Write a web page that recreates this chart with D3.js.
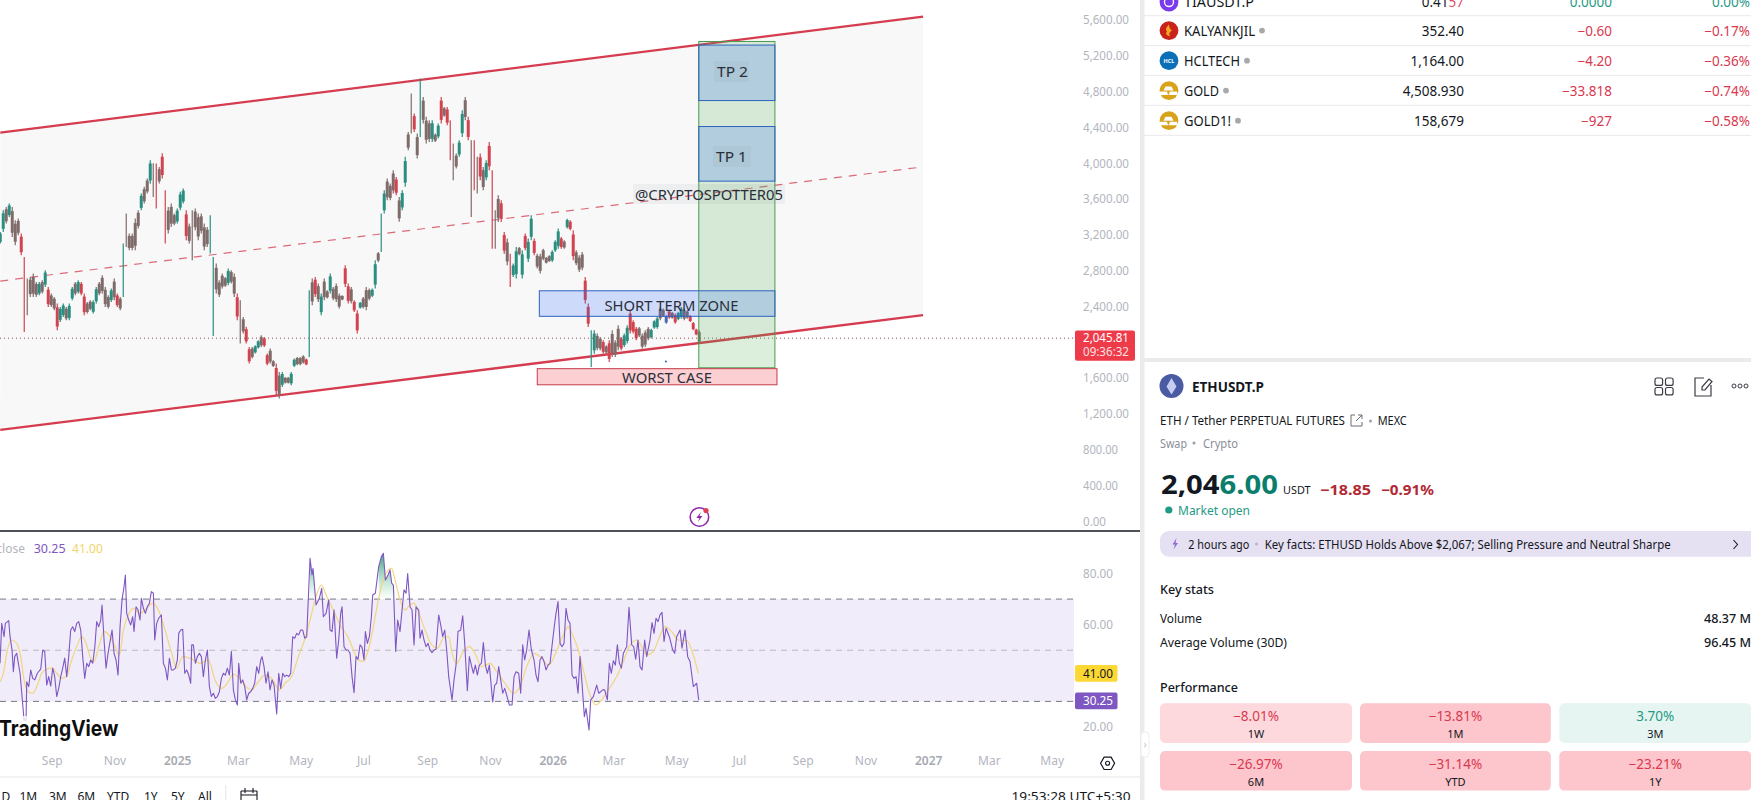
<!DOCTYPE html>
<html><head><meta charset="utf-8">
<script src="https://cdn.jsdelivr.net/npm/d3@7"></script>
<style>html,body{margin:0;padding:0;background:#fff;overflow:hidden}svg{display:block}text{font-family:"Noto Sans",sans-serif}</style>
</head><body><svg id="c" width="1751" height="800"></svg>
<script>
// ---------- data ----------
const priceTicks=[0,400,800,1200,1600,2400,2800,3200,3600,4000,4400,4800,5200,5600];
const rsiTicks=[20,60,80];
const timeTicks=["2024-09-01","2024-11-01","2025-01-01","2025-03-01","2025-05-01","2025-07-01","2025-09-01","2025-11-01","2026-01-01","2026-03-01","2026-05-01","2026-07-01","2026-09-01","2026-11-01","2027-01-01","2027-03-01","2027-05-01"];
const timeLabels=["Sep","Nov","2025","Mar","May","Jul","Sep","Nov","2026","Mar","May","Jul","Sep","Nov","2027","Mar","May"];
const rangeLabels=["D","1M","3M","6M","YTD","1Y","5Y","All"];

const candleStart="2024-07-13", candleStepDays=2.916;
const candleHigh=[3233,3475,3512,3549,3512,3363,3382,3214,2953,2712,
2730,2767,2674,2674,2693,2805,2618,2544,2507,2432,
2395,2432,2395,2432,2618,2674,2693,2674,2544,2451,
2469,2469,2618,2674,2749,2618,2525,2600,2711,2544,
2507,3102,3438,3214,3214,3382,3475,3661,3736,3829,
4034,4000,3996,3959,4112,3698,3512,3549,3438,3494,
3680,3717,3475,3326,3475,3494,3438,3438,3326,3289,
3419,2953,2879,2693,2767,2730,2823,2805,2767,2544,
2470,2283,2172,1948,1948,1967,2023,2078,2060,1874,
1929,1799,1762,1669,1669,1613,1613,1669,1818,1836,
1836,1855,1818,2581,2711,2730,2656,2544,2711,2581,
2767,2618,2656,2544,2525,2860,2656,2618,2470,2358,
2451,2507,2618,2600,2600,2916,3009,3438,3698,3829,
3773,3922,3847,3624,3698,4071,4350,4778,4555,4331,
4946,4741,4518,4480,4480,4331,4443,4741,4629,4629,
4480,4220,4108,4257,4592,4741,4518,4257,4257,4071,
4108,3959,4034,4238,
3922,3475,3642,3586,3232,3158,2990,2879,3065,3065,
3028,3214,3158,3419,3158,2990,2990,3046,2953,2972,
3028,3139,3270,3177,3139,3381,3363,3251,3028,2972,
3009,2730,2432,2134,2134,2097,2060,2022,1966,2022,
2134,2022,2190,2060,2097,2190,2357,2246,2171,2171,
2097,2134,2171,2152,2246,2283,2394,2376,2301,2357,
2339,2320,2339,2394,2376,2357,2301,2227,2152,2134];
const candleLow=[3102,3233,3326,3400,3177,3084,3196,2972,2116,2302,
2507,2507,2507,2525,2544,2618,2395,2395,2358,2134,
2227,2283,2246,2246,2469,2525,2544,2525,2302,2320,
2358,2320,2432,2525,2544,2395,2376,2451,2469,2395,
2358,2507,3065,3028,3028,3028,3270,3475,3549,3661,
3770,3624,3494,3773,3829,3102,3214,3289,3307,3326,
3475,3549,3140,3102,2916,3251,3140,3214,3028,3065,
2991,2071,2544,2507,2600,2618,2637,2656,2507,2246,
1985,2097,1985,1762,1818,1874,1929,1948,1948,1743,
1762,1725,1408,1371,1501,1538,1538,1520,1725,1743,
1743,1762,1743,1836,2414,2507,2451,2302,2470,2488,
2544,2470,2451,2376,2470,2618,2432,2432,2339,2097,
2376,2376,2358,2470,2507,2600,2898,3009,3438,3587,
3587,3661,3642,3345,3475,3736,4145,4331,4350,4052,
4294,4443,4220,4238,4238,4238,4276,4443,4518,4425,
4034,3810,3940,4071,4294,4480,4257,3400,3698,3661,
3810,3698,3810,3922,
3046,3046,3344,3344,2990,2860,2618,2730,2711,2972,
2711,3028,2897,3139,2972,2823,2767,2916,2879,2897,
2897,3009,3046,3046,3046,3270,3251,2916,2860,2786,
2804,2432,2171,1724,1873,1910,1910,1873,1873,1780,
1836,1836,1910,1910,1948,1985,2097,2097,2022,2059,
1929,1948,2022,2041,2152,2152,2246,2283,2208,2264,
2264,2208,2246,2264,2246,2264,2227,2134,2078,1985];
const candleTone=("g g m g m m m r r m  m m m g m g r m m r  g g m g g m g r r m  m g g m m m m g m r  m g m m m m m g m m  g m r m r r m m m g  g g r m m m m m m m  g g m m m m g m m r "+
"m m r r m g g m r r  m m r m g m m g g m  m m r g m r m g m m  g m m m m r r m r r  g m m m g g m g g m  m m r m g g m m r m  g m m m g m g r m r  r m m g g m r m r m  r m g r "+
"r m m r r m r g g m  g r g g r m m m m m  g g g r m g r r m m  m r r g g m m r m r  m m m r g g r r r m  m m m g g g m m b r  m r g g m m r r r m").trim().split(/\s+/);

const channelDates=["2024-07-13","2026-12-27"];
const channelTop=[4341,5637];
const channelMid=[2684,3959];
const channelBottom=[1022,2302];

const lastPrice=2045.81;
const zoneStart="2026-05-23", zoneEnd="2026-08-05", shortStart="2025-12-19", worstStart="2025-12-17", worstEnd="2026-08-07";
const entryRange=[1715,5360], tp2Range=[4700,5320], tp1Range=[3800,4410], shortRange=[2290,2575], worstRange=[1525,1705];

// RSI vertices: bar index (bars of 0.324 day from candleStart)
const rsiBarDays=0.324;
const rsiBars=[0,5,12,16,26,30,36,40,44,50,55,60,66,72,78,80,86,92,98,104,112,122,128,134,140,146,152,158,164,170,176,182,188,194,200,206,212,218,224,230,236,242,248,254,260,266,272,278,284,290,296,302,306,312,318,324,330,336,342,348,354,360,366,372,376,380,386,392,398,402,408,414,420,424,430,436,442,448,454,460,464,470,476,484,490,496,502,508,514,520,526,532,536,542,548,554,560,566,572,575,580,586,592,598,604,610,616,622,628,634,640,646,652,658,664,670,676,682,688,694,700,706,712,716,722,728,734,740,746,752,758,764,770,776,782,786,792,798,804,810,816,822,830,836,842,848,854,860,866,872,878,884,890,896,902,908,914,920,930,936,939,948,958,965,970,978,986,990,996,1002,1010,1016,1022,1026,1032,1038,1044,1050,
1056,1062,1068,1074,1080,1086,1092,1096,1102,1108,1114,1118,1126,1136,1144,1150,1156,1164,1170,1175,1180,1187,1193,1200,1206,1212,1218,1223,1230,1236,1242,1248,1256,1260,1266,1272,1278,1284,1290,1296,1302,1308,1316,1322,1328,1334,1340,1346,1356,1362,1368,1374,1382,1388,1394,1402,1408,1414,1420,1426,1432,1438,1444,1450,1456,1462,1468,1478,1484,1490,1496,1502,1508,1514,1520,1528,1536,1542,1548,1556,1562,1568,1574,1580,1587,1594,1602,1608,1614,1620,1626,1632,1638,1644,1650,1658,1664,1668,1674,1680,1686,1692,1698,1704,1710,1716,1722,1728,1734,1740,1746,1753,1758,1767,1772,1780,1790,1796,1802,1808,1814,1822,1828,1834,1840,1846,1852,1858,1864,1870,1880,1887,1895,1901,1907,1914,1920,1926,1934,1940,1950,1956,1962,1968,1974,1980,1986,1992,1998,2008,2018,2024,2030,2040,2046,2055,2063,2070,2080,2090,2096];
const rsiValues=[44.9,60.5,55.3,60.5,61.6,55.3,50.1,41.6,47.5,48.8,44.9,41,31.9,22.7,22.7,37.7,35.8,42.3,39,38.4,41,42.6,50.1,49.5,36.4,39.7,36,43,39.7,31.9,35.1,39.7,43,46.9,39.7,47.5,57.9,59.2,57.3,60.5,61.2,57.9,47.5,39,44.9,43.6,46.2,44.9,50.8,61.2,59.2,61.8,67.7,54,43,48.8,53.4,57.9,48.8,46.2,40.3,59.2,69.7,74.9,79.4,64.4,61.8,59.9,63.1,57.3,67,65.7,61.8,70.3,66.4,64.4,67,68.4,72.9,72.3,54,60.5,62.5,63.8,44.9,43,38.4,46.9,42.3,42.3,43,46.2,56.6,57.9,58.2,41,42.3,40.3,37.1,52.1,52.1,44.9,47.5,48.8,47.5,39.7,46.2,50.1,35.8,31.9,33.2,31.2,31.9,33.8,39,41,40.3,43,40.3,49.5,34.5,30.6,28.6,44.9,37.1,38.4,35.8,30.6,33.2,33.8,35.1,37.1,43.6,41,46.2,47.5,43.6,37.1,41.6,34.5,38.4,36.4,25.1,41,35.1,41,39.7,40.3,39.7,41,55.3,54.7,56.6,56,57.9,57.9,54.7,55.3,85.9,79.4,82,67.7,70.3,74.2,63.1,64.4,69.7,57.9,57.3,65.7,46.9,54,64.4,67,51.4,50.1,50.1,48.8,
39.7,33.4,47.5,46.5,52.1,51.2,46.2,57.3,52.7,55.3,63.1,71.6,72.3,82.7,86.6,87.9,77.5,79.4,81.4,76.2,75.5,49.5,61.8,57.3,65.7,73.6,72.3,80,67,65.7,52.1,67,65.7,54.7,57.9,54,51.4,52.7,50.1,49.1,50.1,50.4,63.8,59.9,55.3,57.9,50.1,39.7,30.6,38.4,44.2,57.3,57.9,63.5,52.7,34.2,47.5,44.2,41,44.2,40.3,44.2,44.9,53,44.2,41,44.2,29.8,36.4,37.1,43.6,38.4,33.2,35.1,32.5,28.6,28.6,39.7,41.6,41,33.2,52.1,46.2,50.1,57.9,50.1,46.2,40.3,37.7,46.2,47.5,45.6,42.3,44.2,44.9,54,60.5,64.4,69,52.7,51.4,52.7,66.4,61.8,60.5,40.3,39,39.7,33.2,47.5,37.1,24,27.3,18.8,30.6,31.9,36.4,33.2,33.8,34.5,34.5,30.6,44.9,41,45.9,44.2,52.1,44.9,43,48.8,51.4,66.8,52.1,51.4,46.5,54,43.6,42.3,54,47.5,54,60.8,56.6,62.5,61.2,63.8,64.8,53.4,58.6,55.3,50.1,48.8,55.3,57.9,50.8,57.9,47.5,45.6,35.8,37.1,30.6,30.25];
const maBars=[0,10,22,36,50,62,72,84,98,112,125,140,155,170,185,200,215,232,245,258,270,282,296,312,330,345,358,370,385,400,420,440,458,475,495,515,530,548,570,600,625,645,665,685,700,718,738,755,775,795,815,838,855,875,895,915,930,948,964,980,1000,1020,1040,1050,
1064,1074,1090,1105,1120,1135,1150,1165,1175,1185,1200,1215,1230,1242,1255,1275,1295,1312,1330,1346,1356,1370,1390,1408,1425,1445,1470,1490,1515,1540,1560,1580,1602,1625,1645,1665,1685,1705,1720,1735,1750,1765,1788,1805,1825,1850,1870,1890,1910,1925,1940,1960,1975,1995,2015,2035,2060,2075,2095];
const maValues=[37.7,41,50.1,54,52.7,47.5,38.4,33.8,33.2,36.4,41,42.6,43,41,39,39.9,46.2,52.1,55.3,52.7,47.5,45.6,51.4,57.3,55.3,51.4,48.2,57.9,63.8,66.4,64.4,66.4,68.4,65.7,57.9,48.8,43,47.5,46.9,44.9,46.2,38.4,35.1,37.7,40.7,39,35.8,34.5,37.7,40.3,39,34.5,37.1,39.7,47.5,54.7,61.8,71,75.5,71,65.7,59.9,56,53.4,
48.8,46.2,45.6,50.1,59.2,69.7,77.5,81.4,82,77.5,69.7,65.7,67.7,68.4,65.1,57.9,52.1,50.8,54.7,55.3,48.8,44.9,49.5,51.4,48.8,43.6,44.9,41.6,37.1,33.2,35.8,43.6,48.8,46.9,44.2,48.2,54.7,59.2,55.3,50.1,42.3,34.5,28.6,30.6,34.5,39.7,45.6,52.1,54,51.4,48.2,49.5,54,59.2,57.3,54,53.8,50.1,41];
const overboughtSpans=[[925,960],[1130,1190]];
const rsiLast=30.25, maLast=41.00;

const watchNames=["TIAUSDT.P","KALYANKJIL","HCLTECH","GOLD","GOLD1!"];
const watchPrices=["0.41","352.40","1,164.00","4,508.930","158,679"];
const watchChanges=["0.0000","\u22120.60","\u22124.20","\u221233.818","\u2212927"];
const watchPercents=["0.00%","\u22120.17%","\u22120.36%","\u22120.74%","\u22120.58%"];
const perfValues=["\u22128.01%","\u221213.81%","3.70%","\u221226.97%","\u221231.14%","\u221223.21%"];
const perfLabels=["1W","1M","3M","6M","YTD","1Y"];

// ---------- scales ----------
const svg=d3.select("#c");
const day=86400000, D=s=>new Date(s+"T00:00:00Z");
const x=d3.scaleUtc().domain([D("2025-01-01"),D("2027-01-01")]).range([177.2,928.2]);
const yP=d3.scaleLinear().domain([0,5600]).range([521.3,20]);
const yR=d3.scaleLinear().domain([20,80]).range([727,573.5]);
const candleDate=i=>new Date(+D(candleStart)+i*candleStepDays*day);
const rsiDate=b=>new Date(+D(candleStart)+(b*rsiBarDays-0.2)*day);

const INK="#131722", GREY="#b2b5be", RED="#d9394f", TEAL="#1f9a85";
function T(g,s,px,py,o={}){
  const t=g.append("text").text(s).attr("x",px).attr("y",py).attr("dominant-baseline","central")
   .attr("font-size",o.size||13).attr("fill",o.fill||INK).attr("text-anchor",o.anchor||"start");
  if(o.weight)t.attr("font-weight",o.weight);
  if(o.family)t.style("font-family",o.family);
  if(o.w)t.attr("textLength",o.w).attr("lengthAdjust","spacingAndGlyphs");
  return t;
}

// ---------- channel ----------
const defs=svg.append("defs");
defs.append("clipPath").attr("id","chartClip").append("rect").attr("x",0).attr("y",0).attr("width",1075).attr("height",530);
const grad=defs.append("linearGradient").attr("id","ob").attr("gradientUnits","userSpaceOnUse").attr("x1",0).attr("x2",0).attr("y1",yR(88)).attr("y2",yR(70));
grad.append("stop").attr("offset",0).attr("stop-color","#1f8f6f").attr("stop-opacity",.85);
grad.append("stop").attr("offset",1).attr("stop-color","#6fcf97").attr("stop-opacity",.03);

const main=svg.append("g").attr("clip-path","url(#chartClip)");
const chIdx=[0,1];
main.append("path").attr("fill","#f8f8f8")
 .attr("d",d3.area().x(i=>x(D(channelDates[i]))).y0(i=>yP(channelBottom[i])).y1(i=>yP(channelTop[i]))(chIdx));
const chLine=arr=>d3.line().x(i=>x(D(channelDates[i]))).y(i=>yP(arr[i]))(chIdx);
[channelTop,channelBottom].forEach(a=>main.append("path").attr("d",chLine(a)).attr("fill","none").attr("stroke","#d63c4f").attr("stroke-width",2.3));
main.append("path").attr("d",chLine(channelMid)).attr("fill","none").attr("stroke","#dc6a78").attr("stroke-width",1.2).attr("stroke-dasharray","8 7");
main.append("line").attr("x1",0).attr("x2",1075).attr("y1",yP(lastPrice)).attr("y2",yP(lastPrice)).attr("stroke","#8e4a55").attr("stroke-width",1).attr("stroke-dasharray","1 3");

// ---------- candles ----------
const toneColor={g:"#2a8f80",r:"#d2434f",m:"#7f6c6a",b:"#4a69b0"};
const idx=d3.range(candleHigh.length);
main.append("g").selectAll("line").data(idx).join("line")
 .attr("x1",i=>x(candleDate(i))).attr("x2",i=>x(candleDate(i)))
 .attr("y1",i=>yP(candleHigh[i])).attr("y2",i=>yP(candleLow[i]))
 .attr("stroke",i=>toneColor[candleTone[i]]||toneColor.m).attr("stroke-width",1.2);
main.append("g").selectAll("rect").data(idx.filter(i=>candleHigh[i]-candleLow[i]<370)).join("rect")
 .attr("x",i=>x(candleDate(i))-1.5).attr("width",3)
 .attr("y",i=>yP(candleHigh[i]-(candleHigh[i]-candleLow[i])*.14))
 .attr("height",i=>Math.max(1,yP(candleLow[i]+(candleHigh[i]-candleLow[i])*.14)-yP(candleHigh[i]-(candleHigh[i]-candleLow[i])*.14)))
 .attr("fill",i=>toneColor[candleTone[i]]||toneColor.m);
main.append("circle").attr("cx",x(D("2026-04-21"))).attr("cy",yP(1785)).attr("r",1).attr("fill","#2a5fb0");

// ---------- drawn zones ----------
function box(x0,x1,range,fill,stroke){
  main.append("rect").attr("x",x(D(x0))).attr("width",x(D(x1))-x(D(x0)))
   .attr("y",yP(range[1])).attr("height",yP(range[0])-yP(range[1]))
   .attr("fill",fill).attr("stroke",stroke).attr("stroke-width",1);
}
box(zoneStart,zoneEnd,entryRange,"rgba(76,175,80,.2)","#4c9a52");
box(zoneStart,zoneEnd,tp2Range,"rgba(41,98,255,.2)","#2d62c0");
box(zoneStart,zoneEnd,tp1Range,"rgba(41,98,255,.2)","#2d62c0");
box(shortStart,zoneEnd,shortRange,"rgba(41,98,255,.2)","#2d62c0");
box(worstStart,worstEnd,worstRange,"rgba(242,54,69,.24)","#c43c4c");
const lab="#2a2e39";
main.append("rect").attr("x",714).attr("y",61).attr("width",35).attr("height",21).attr("fill","rgba(120,123,134,.08)");
main.append("rect").attr("x",713).attr("y",146).attr("width",38).attr("height",21).attr("fill","rgba(120,123,134,.08)");
main.append("rect").attr("x",633).attr("y",184).attr("width",152).attr("height",20).attr("fill","rgba(120,123,134,.08)");
T(main,"TP 2",717,71.5,{size:14,fill:lab,w:31});
T(main,"TP 1",716,156,{size:14,fill:lab,w:31});
T(main,"@CRYPTOSPOTTER05",635,194,{size:14,fill:lab,w:148});
T(main,"SHORT TERM ZONE",604.5,305,{size:14,fill:lab,w:134});
T(main,"WORST CASE",622,377.6,{size:14,fill:lab,w:90});

// lightning mark
const bolt=svg.append("g").attr("transform","translate(699.4,517)");
bolt.append("circle").attr("r",9.3).attr("fill","#fff").attr("stroke","#8e24aa").attr("stroke-width",1.5);
bolt.append("path").attr("d","M1.5,-5 L-3,1 L0,1 L-1.5,5 L3,-1 L0,-1 Z").attr("fill","#8e24aa");
bolt.append("circle").attr("cx",6.6).attr("cy",-6.4).attr("r",2.6).attr("fill","#e0404f");

// ---------- price axis ----------
const axP=svg.append("g").attr("transform","translate(1083,0)")
 .call(d3.axisRight(yP).tickValues(priceTicks).tickFormat(d3.format(",.2f")).tickSize(0).tickPadding(0));
axP.select(".domain").remove();
axP.selectAll("text").attr("fill",GREY).attr("font-size",12).style("font-family",'"Noto Sans",sans-serif').attr("textLength",function(d){return d>=1000?46:(d>0?35:23)}).attr("lengthAdjust","spacingAndGlyphs");
svg.append("rect").attr("x",1075).attr("y",330.6).attr("width",60).attr("height",30.2).attr("rx",2).attr("fill","#ee3b4a");
T(svg,d3.format(",.2f")(lastPrice),1083,337.8,{size:12,fill:"#fff",w:46});
T(svg,"09:36:32",1083,351.5,{size:12,fill:"#fde0e3",w:46});

// pane separator
svg.append("line").attr("x1",0).attr("x2",1140).attr("y1",531).attr("y2",531).attr("stroke","#131722").attr("stroke-width",1.3);

// ---------- RSI pane ----------
const rp=svg.append("g");
const bandX1=1074;
rp.append("rect").attr("x",0).attr("width",bandX1).attr("y",yR(70)).attr("height",yR(30)-yR(70)).attr("fill","#f0ecf9");
[[70,"#787b86"],[50,"#b8b8c2"],[30,"#787b86"]].forEach(([v,c])=>rp.append("line").attr("x1",0).attr("x2",bandX1).attr("y1",yR(v)).attr("y2",yR(v)).attr("stroke",c).attr("stroke-width",1).attr("stroke-dasharray","6 5"));
const rsiPts=rsiBars.map((b,i)=>[b,rsiValues[i]]);
overboughtSpans.forEach(([a,b])=>{
  const pts=rsiPts.filter(p=>p[0]>=a&&p[0]<=b);
  rp.append("path").attr("fill","url(#ob)")
   .attr("d",d3.area().x(p=>x(rsiDate(p[0]))).y0(yR(70)).y1(p=>yR(Math.max(p[1],70)))(pts));
});
rp.append("path").attr("fill","none").attr("stroke","#f1d57f").attr("stroke-width",1.2)
 .attr("d",d3.line().curve(d3.curveMonotoneX).x((b)=>x(rsiDate(b))).y((b,i)=>yR(maValues[i]))(maBars));
rp.append("path").attr("fill","none").attr("stroke","#7e57c2").attr("stroke-width",1.1).attr("stroke-linejoin","round")
 .attr("d",d3.line().x(p=>x(rsiDate(p[0]))).y(p=>yR(p[1]))(rsiPts));
const axR=svg.append("g").attr("transform","translate(1083,0)")
 .call(d3.axisRight(yR).tickValues(rsiTicks).tickFormat(d3.format(".2f")).tickSize(0).tickPadding(0));
axR.select(".domain").remove();
axR.selectAll("text").attr("fill",GREY).attr("font-size",12).style("font-family",'"Noto Sans",sans-serif').attr("textLength",30).attr("lengthAdjust","spacingAndGlyphs");
svg.append("rect").attr("x",1075).attr("y",yR(maLast)-8.4).attr("width",42.5).attr("height",16.8).attr("rx",2).attr("fill","#fdd835");
T(svg,maLast.toFixed(2),1083,yR(maLast),{size:12,fill:INK,w:30});
svg.append("rect").attr("x",1075).attr("y",yR(rsiLast)-8.4).attr("width",42.5).attr("height",16.8).attr("rx",2).attr("fill","#7e57c2");
T(svg,rsiLast.toFixed(2),1083,yR(rsiLast),{size:12,fill:"#fff",w:30});
T(svg,"close",25,548.3,{size:12,fill:GREY,anchor:"end"});
T(svg,rsiLast.toFixed(2),33.7,548.3,{size:12,fill:"#7e57c2",w:32});
T(svg,maLast.toFixed(2),72,548.3,{size:12,fill:"#f2d468",w:31});
svg.append("rect").attr("x",0).attr("y",716).attr("width",120).attr("height",24).attr("fill","#fff").attr("fill-opacity",.75);
T(svg,"TradingView",-1,728,{size:22,weight:700,fill:"#0f0f0f",family:"Inter,sans-serif",w:119.5});

// ---------- time axis ----------
const axT=svg.append("g").attr("transform","translate(0,756)")
 .call(d3.axisBottom(x).tickValues(timeTicks.map(D)).tickFormat((d,i)=>timeLabels[i]).tickSize(0).tickPadding(0));
axT.select(".domain").remove();
axT.selectAll("text").attr("fill",(d,i)=>/^\d/.test(timeLabels[i])?"#a6a9b2":GREY).attr("font-weight",(d,i)=>/^\d/.test(timeLabels[i])?600:400)
 .attr("font-size",12).style("font-family",'"Noto Sans",sans-serif');
svg.append("line").attr("x1",0).attr("x2",1140).attr("y1",777).attr("y2",777).attr("stroke","#e6e6e6");
const gear=svg.append("g").attr("transform","translate(1107.6,763.3)");
gear.append("path").attr("d","M-7,0 L-3.5,-6.2 L3.5,-6.2 L7,0 L3.5,6.2 L-3.5,6.2 Z").attr("fill","none").attr("stroke",INK).attr("stroke-width",1.2);
gear.append("circle").attr("r",2).attr("fill","none").attr("stroke",INK).attr("stroke-width",1.1);
const rangeX=[1.5,19.5,49,77.5,107,144,171,198];
rangeLabels.forEach((s,i)=>T(svg,s,rangeX[i],796,{size:12,fill:INK}));
svg.append("line").attr("x1",225.8).attr("x2",225.8).attr("y1",785).attr("y2",800).attr("stroke","#e0e3eb");
svg.append("path").attr("d","M241,791 H257 M241,791 V801 M257,791 V801 M245,788 V793 M253,788 V793 M241,795 H257").attr("fill","none").attr("stroke",INK).attr("stroke-width",1.1);
T(svg,"19:53:28 UTC+5:30",1130.5,796,{size:13,fill:INK,anchor:"end",w:119});

// ---------- right panel ----------
svg.append("rect").attr("x",1140).attr("y",0).attr("width",4.5).attr("height",800).attr("fill","#ebebeb");
svg.append("rect").attr("x",1140).attr("y",358).attr("width",611).attr("height",4).attr("fill","#ebebeb");
svg.append("rect").attr("x",1141).attr("y",732).attr("width",8).attr("height",25).attr("rx",3).attr("fill","#fff").attr("stroke","#eeeeee");
T(svg,"\u203a",1143.5,744,{size:10,fill:"#c4c4c4"});

const wp=svg.append("g");
const rowY=[2,30.6,60.7,90.6,120.7];
const nameW=[70,71,56,35,47];
[15.7,45.7,75.3,105.3,135.3].forEach(y=>wp.append("line").attr("x1",1144).attr("x2",1751).attr("y1",y).attr("y2",y).attr("stroke","#e9e9e9"));
const iconFill=["#7c3aed","#c9241c","#0b6fb8","#d9a21b","#d9a21b"];
watchNames.forEach((n,i)=>{
  const y=rowY[i];
  wp.append("circle").attr("cx",1169).attr("cy",y).attr("r",9.4).attr("fill",iconFill[i]);
  if(i===0)wp.append("circle").attr("cx",1169).attr("cy",y).attr("r",4.5).attr("fill","none").attr("stroke","#fff").attr("stroke-width",1.3);
  if(i===1)wp.append("path").attr("d",`M1169,${y-6} q-5,5 -2,7 q-3,3 3,5 q-2,-4 2,-6 q-3,-2 -3,-6Z`).attr("fill","#f5a623");
  if(i===2)T(wp,"HCL",1169,y,{size:5.5,fill:"#fff",anchor:"middle",weight:700});
  if(i>=3){
    wp.append("path").attr("d",`M1166,${y-3} h6 l2,4 h-10 Z M1160.5,${y+2} h7 l1,3.5 h-9.5 Z M1170.5,${y+2} h7 l1,3.5 h-9.5 Z`).attr("fill","#fff").attr("transform","translate(-0.5,-1)");
  }
  T(wp,n,1184,y,{size:13.5,w:nameW[i]});
  if(i>0)wp.append("circle").attr("cx",1184+nameW[i]+7).attr("cy",y).attr("r",2.9).attr("fill","#a8a8a8");
  if(i===0){
    const t=T(wp,"",1464,y,{size:13.5,anchor:"end"});
    t.append("tspan").text(watchPrices[0]);
    t.append("tspan").text("57").attr("fill","#e0505f");
  } else T(wp,watchPrices[i],1464,y,{size:13.5,anchor:"end"});
  const col=i===0?TEAL:RED;
  T(wp,watchChanges[i],1612,y,{size:13.5,fill:col,anchor:"end"});
  T(wp,watchPercents[i],1750,y,{size:13.5,fill:col,anchor:"end"});
});

const dp=svg.append("g");
dp.append("circle").attr("cx",1171.5).attr("cy",386).attr("r",12).attr("fill","#4a5aa3");
dp.append("path").attr("d","M1171.5,378 L1176.5,386.5 L1171.5,394.5 L1166.5,386.5 Z").attr("fill","#c5cdf2");
T(dp,"ETHUSDT.P",1192,386,{size:14,weight:700,w:72});
const ico="#3a3d45";
[[1655,378],[1665.5,378],[1655,387.5],[1665.5,387.5]].forEach(([a,b])=>dp.append("rect").attr("x",a).attr("y",b).attr("width",7.6).attr("height",7.4).attr("rx",2).attr("fill","none").attr("stroke",ico).attr("stroke-width",1.2));
dp.append("path").attr("d","M1704,378 H1695 V396 H1711 V385 M1702,390 L1702,387 L1709,379 L1712,381.5 L1705,390 Z").attr("fill","none").attr("stroke",ico).attr("stroke-width",1.2);
[1734,1740,1746].forEach(a=>dp.append("circle").attr("cx",a).attr("cy",386).attr("r",2).attr("fill","none").attr("stroke",ico).attr("stroke-width",1));
T(dp,"ETH / Tether PERPETUAL FUTURES",1160,420.7,{size:12.5,w:185});
dp.append("path").attr("d","M1355,415 H1351 V426 H1362 V422 M1356,421 L1362,415 M1358,415 H1362 V419").attr("fill","none").attr("stroke","#6a6d78").attr("stroke-width",1);
dp.append("circle").attr("cx",1370.5).attr("cy",421).attr("r",1.5).attr("fill","#9a9ea8");
T(dp,"MEXC",1377.7,420.7,{size:12.5,w:29});
T(dp,"Swap",1160,443,{size:12,fill:"#8b8e98",w:27});
dp.append("circle").attr("cx",1194).attr("cy",443).attr("r",1.5).attr("fill","#9a9ea8");
T(dp,"Crypto",1203,443,{size:12,fill:"#8b8e98",w:35});
const big=T(dp,"",1161,482.7,{size:27,weight:700,w:117});
big.append("tspan").text("2,04");
big.append("tspan").text("6.00").attr("fill","#0b7d6c");
T(dp,"USDT",1283,489,{size:11.5,w:27.5});
T(dp,"\u221218.85",1320,489,{size:14,weight:700,fill:"#b22833",w:51});
T(dp,"\u22120.91%",1381,489,{size:14,weight:700,fill:"#b22833",w:53});
dp.append("circle").attr("cx",1168.8).attr("cy",510).attr("r",3.6).attr("fill","#1f9a85");
T(dp,"Market open",1178,510,{size:12.5,fill:"#1f9a85",w:72});
dp.append("rect").attr("x",1160).attr("y",531).attr("width",600).attr("height",25.7).attr("rx",9).attr("fill","#e6e0f3");
dp.append("path").attr("d","M1176.5,538 L1172.5,544.5 L1175,544.5 L1173.5,549.5 L1178,543 L1175.5,543 Z").attr("fill","#8e6bd0");
T(dp,"2 hours ago",1188.3,544,{size:12,w:61});
dp.append("circle").attr("cx",1256.5).attr("cy",544).attr("r",1.5).attr("fill","#b9b3c9");
T(dp,"Key facts: ETHUSD Holds Above $2,067; Selling Pressure and Neutral Sharpe",1264.7,544,{size:12,w:406});
dp.append("path").attr("d","M1733.5,540 L1737.5,544.5 L1733.5,549").attr("fill","none").attr("stroke",INK).attr("stroke-width",1.1);

T(dp,"Key stats",1160,589.3,{size:13,weight:500,w:54});
T(dp,"Volume",1160,618.7,{size:12.5,w:42});
T(dp,"Average Volume (30D)",1160,642.7,{size:12.5,w:127});
T(dp,"48.37 M",1751,618.7,{size:12.5,weight:500,anchor:"end",w:47});
T(dp,"96.45 M",1751,642.7,{size:12.5,weight:500,anchor:"end",w:47});
T(dp,"Performance",1160,686.7,{size:13,weight:500,w:78});

const tileX=[1160,1360,1559.3], tileW=[192,190.8,192], tileY=[703.3,751];
const tileFill=["#fdd9dd","#fdc5cc","#e6f5f1","#fdc5cc","#fdc5cc","#fdc5cc"];
perfValues.forEach((v,i)=>{
  const c=i%3,r=i<3?0:1;
  dp.append("rect").attr("x",tileX[c]).attr("y",tileY[r]).attr("width",tileW[c]).attr("height",39.6).attr("rx",5).attr("fill",tileFill[i]);
  const cx=tileX[c]+tileW[c]/2;
  T(dp,v,cx,tileY[r]+13,{size:13.5,anchor:"middle",fill:v.startsWith("\u2212")?RED:TEAL});
  T(dp,perfLabels[i],cx,tileY[r]+30,{size:11,anchor:"middle",fill:INK});
});
</script></body></html>
